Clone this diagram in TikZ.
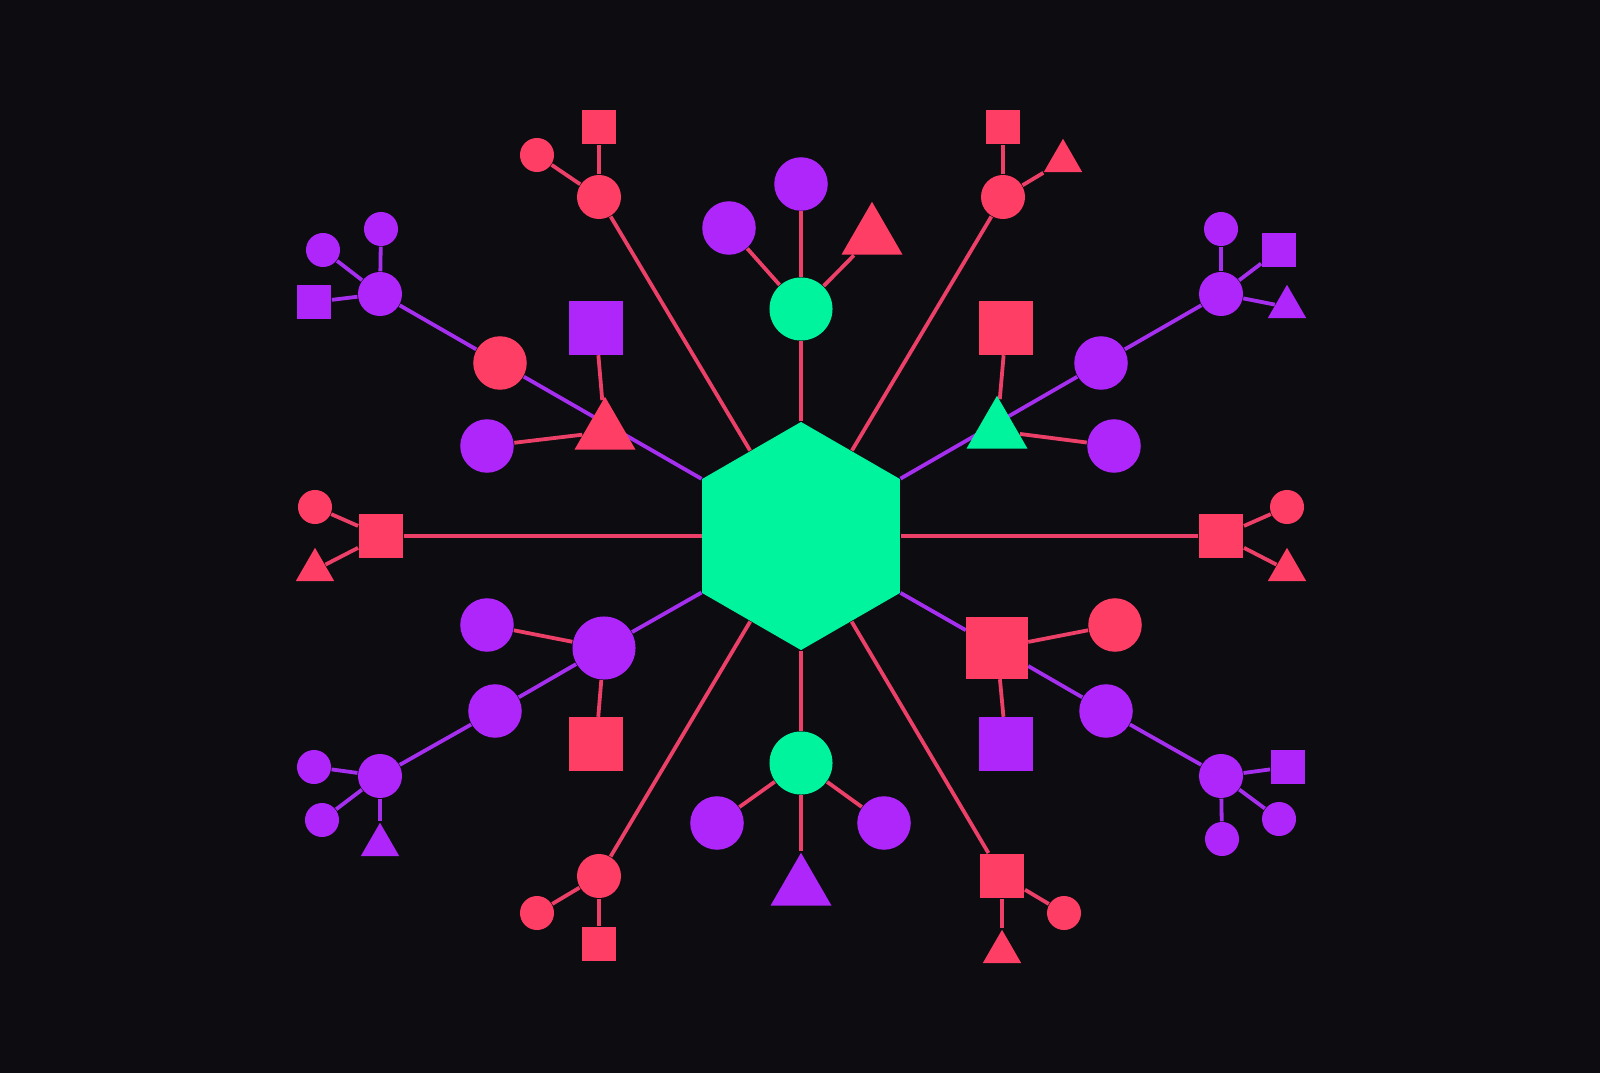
\documentclass[tikz,border=0pt]{standalone}
\usepackage{xcolor}
\usepackage{tikz}
\usetikzlibrary{shapes}

\definecolor{bgdark}{HTML}{0C0C11}
\definecolor{hot}{HTML}{FF3E65}
\definecolor{vio}{HTML}{AE26FA}
\definecolor{mint}{HTML}{00F49D}
\definecolor{hotline}{HTML}{EC4068}
\definecolor{violine}{HTML}{A62EEE}

\pgfdeclarelayer{back}
\pgfsetlayers{back,main}

\tikzset{
    cbig/.style={circle,fill=#1,inner sep=0pt,minimum size=.63cm},
    cmid/.style={circle,fill=#1,inner sep=0pt,minimum size=.535cm},
    chub/.style={circle,fill=#1,inner sep=0pt,minimum size=.44cm},
    csml/.style={circle,fill=#1,inner sep=0pt,minimum size=.34cm},
    sbig/.style={rectangle,fill=#1,inner sep=0pt,minimum size=.61cm},
    smid/.style={rectangle,fill=#1,inner sep=0pt,minimum size=.53cm},
    shub/.style={rectangle,fill=#1,inner sep=0pt,minimum size=.445cm},
    ssml/.style={rectangle,fill=#1,inner sep=0pt,minimum size=.345cm},
    tbig/.style={regular polygon,regular polygon sides=3,fill=#1,inner sep=0pt,minimum size=.704cm},
    tsml/.style={regular polygon,regular polygon sides=3,fill=#1,inner sep=0pt,minimum size=.444cm},
    hotlink/.style={draw=hotline,line width=.038cm},
    violink/.style={draw=violine,line width=.038cm}
}

\begin{document}
\begin{tikzpicture}[x=.01cm,y=-.01cm]

        \useasboundingbox (0,0) rectangle (1600,1073);

        \node[regular polygon,regular polygon sides=6,regular polygon rotate=30,fill=mint,inner sep=0pt,minimum size=2.28cm] (hex) at (801,536) {};

        % up and down
        \node[cbig=mint] (gup) at (801,309) {};
        \node[cmid=vio] (gupa) at (801,184) {};
        \node[cmid=vio] (gupb) at (729,228) {};
        \node[tbig=hot] (gupc) at (872,237) {};

        \node[cbig=mint] (gdn) at (801,763) {};
        \node[cmid=vio] (gdna) at (717,823) {};
        \node[cmid=vio] (gdnb) at (884,823) {};
        \node[tbig=vio] (gdnc) at (801,888) {};

        % red hubs
        \node[chub=hot] (rul) at (599,197) {};
        \node[ssml=hot] (rula) at (599,127) {};
        \node[csml=hot] (rulb) at (537,155) {};

        \node[chub=hot] (rur) at (1003,197) {};
        \node[ssml=hot] (rura) at (1003,127) {};
        \node[tsml=hot] (rurb) at (1063,161) {};

        \node[chub=hot] (rdl) at (599,876) {};
        \node[csml=hot] (rdla) at (537,913) {};
        \node[ssml=hot] (rdlb) at (599,944) {};

        \node[shub=hot] (rdr) at (1002,876) {};
        \node[csml=hot] (rdra) at (1064,913) {};
        \node[tsml=hot] (rdrb) at (1002,952) {};

        \node[shub=hot] (rl) at (381,536) {};
        \node[csml=hot] (rla) at (315,507) {};
        \node[tsml=hot] (rlb) at (315,570) {};

        \node[shub=hot] (rr) at (1221,536) {};
        \node[csml=hot] (rra) at (1287,507) {};
        \node[tsml=hot] (rrb) at (1287,570) {};

        % diagonal chains
        \node[tbig=hot] (aul) at (605,432) {};
        \node[cmid=hot] (bul) at (500,363) {};
        \node[chub=vio] (cul) at (380,294) {};
        \node[smid=vio] (aula) at (596,328) {};
        \node[cmid=vio] (aulb) at (487,446) {};
        \node[csml=vio] (cula) at (381,229) {};
        \node[csml=vio] (culb) at (323,250) {};
        \node[ssml=vio] (culc) at (314,302) {};

        \node[tbig=mint] (aur) at (997,431) {};
        \node[cmid=vio] (bur) at (1101,363) {};
        \node[chub=vio] (cur) at (1221,294) {};
        \node[smid=hot] (aura) at (1006,328) {};
        \node[cmid=vio] (aurb) at (1114,446) {};
        \node[csml=vio] (cura) at (1221,229) {};
        \node[ssml=vio] (curb) at (1279,250) {};
        \node[tsml=vio] (curc) at (1287,307) {};

        \node[cbig=vio] (adl) at (604,648) {};
        \node[cmid=vio] (bdl) at (495,711) {};
        \node[chub=vio] (cdl) at (380,776) {};
        \node[cmid=vio] (adla) at (487,625) {};
        \node[smid=hot] (adlb) at (596,744) {};
        \node[csml=vio] (cdla) at (314,767) {};
        \node[csml=vio] (cdlb) at (322,820) {};
        \node[tsml=vio] (cdlc) at (380,845) {};

        \node[sbig=hot] (adr) at (997,648) {};
        \node[cmid=vio] (bdr) at (1106,711) {};
        \node[chub=vio] (cdr) at (1221,776) {};
        \node[cmid=hot] (adra) at (1115,625) {};
        \node[smid=vio] (adrb) at (1006,744) {};
        \node[ssml=vio] (cdra) at (1288,767) {};
        \node[csml=vio] (cdrb) at (1279,819) {};
        \node[csml=vio] (cdrc) at (1222,839) {};

        \begin{pgfonlayer}{back}
        \fill[bgdark] (0,0) rectangle (1600,1073);

        \draw[hotlink] (hex) -- (gup); \draw[hotlink] (gup) -- (gupa); \draw[hotlink] (gup) -- (gupb); \draw[hotlink] (gup) -- (gupc);
        \draw[hotlink] (hex) -- (gdn); \draw[hotlink] (gdn) -- (gdna); \draw[hotlink] (gdn) -- (gdnb); \draw[hotlink] (gdn) -- (gdnc);

        \draw[hotlink] (hex) -- (rul); \draw[hotlink] (rul) -- (rula); \draw[hotlink] (rul) -- (rulb);
        \draw[hotlink] (hex) -- (rur); \draw[hotlink] (rur) -- (rura); \draw[hotlink] (rur) -- (rurb);
        \draw[hotlink] (hex) -- (rdl); \draw[hotlink] (rdl) -- (rdla); \draw[hotlink] (rdl) -- (rdlb);
        \draw[hotlink] (hex) -- (rdr); \draw[hotlink] (rdr) -- (rdra); \draw[hotlink] (rdr) -- (rdrb);
        \draw[hotlink] (hex) -- (rl); \draw[hotlink] (rl) -- (rla); \draw[hotlink] (rl) -- (rlb);
        \draw[hotlink] (hex) -- (rr); \draw[hotlink] (rr) -- (rra); \draw[hotlink] (rr) -- (rrb);

        % the triangles sit on the chain line
        \draw[violink] (hex) -- (bul) -- (cul);
        \draw[hotlink] (aul) -- (aula); \draw[hotlink] (aul) -- (aulb);
        \draw[violink] (cul) -- (cula); \draw[violink] (cul) -- (culb); \draw[violink] (cul) -- (culc);

        \draw[violink] (hex) -- (bur) -- (cur);
        \draw[hotlink] (aur) -- (aura); \draw[hotlink] (aur) -- (aurb);
        \draw[violink] (cur) -- (cura); \draw[violink] (cur) -- (curb); \draw[violink] (cur) -- (curc);

        \draw[violink] (hex) -- (adl) -- (bdl) -- (cdl);
        \draw[hotlink] (adl) -- (adla); \draw[hotlink] (adl) -- (adlb);
        \draw[violink] (cdl) -- (cdla); \draw[violink] (cdl) -- (cdlb); \draw[violink] (cdl) -- (cdlc);

        \draw[violink] (hex) -- (adr) -- (bdr) -- (cdr);
        \draw[hotlink] (adr) -- (adra); \draw[hotlink] (adr) -- (adrb);
        \draw[violink] (cdr) -- (cdra); \draw[violink] (cdr) -- (cdrb); \draw[violink] (cdr) -- (cdrc);
        \end{pgfonlayer}

\end{tikzpicture}
\end{document}
